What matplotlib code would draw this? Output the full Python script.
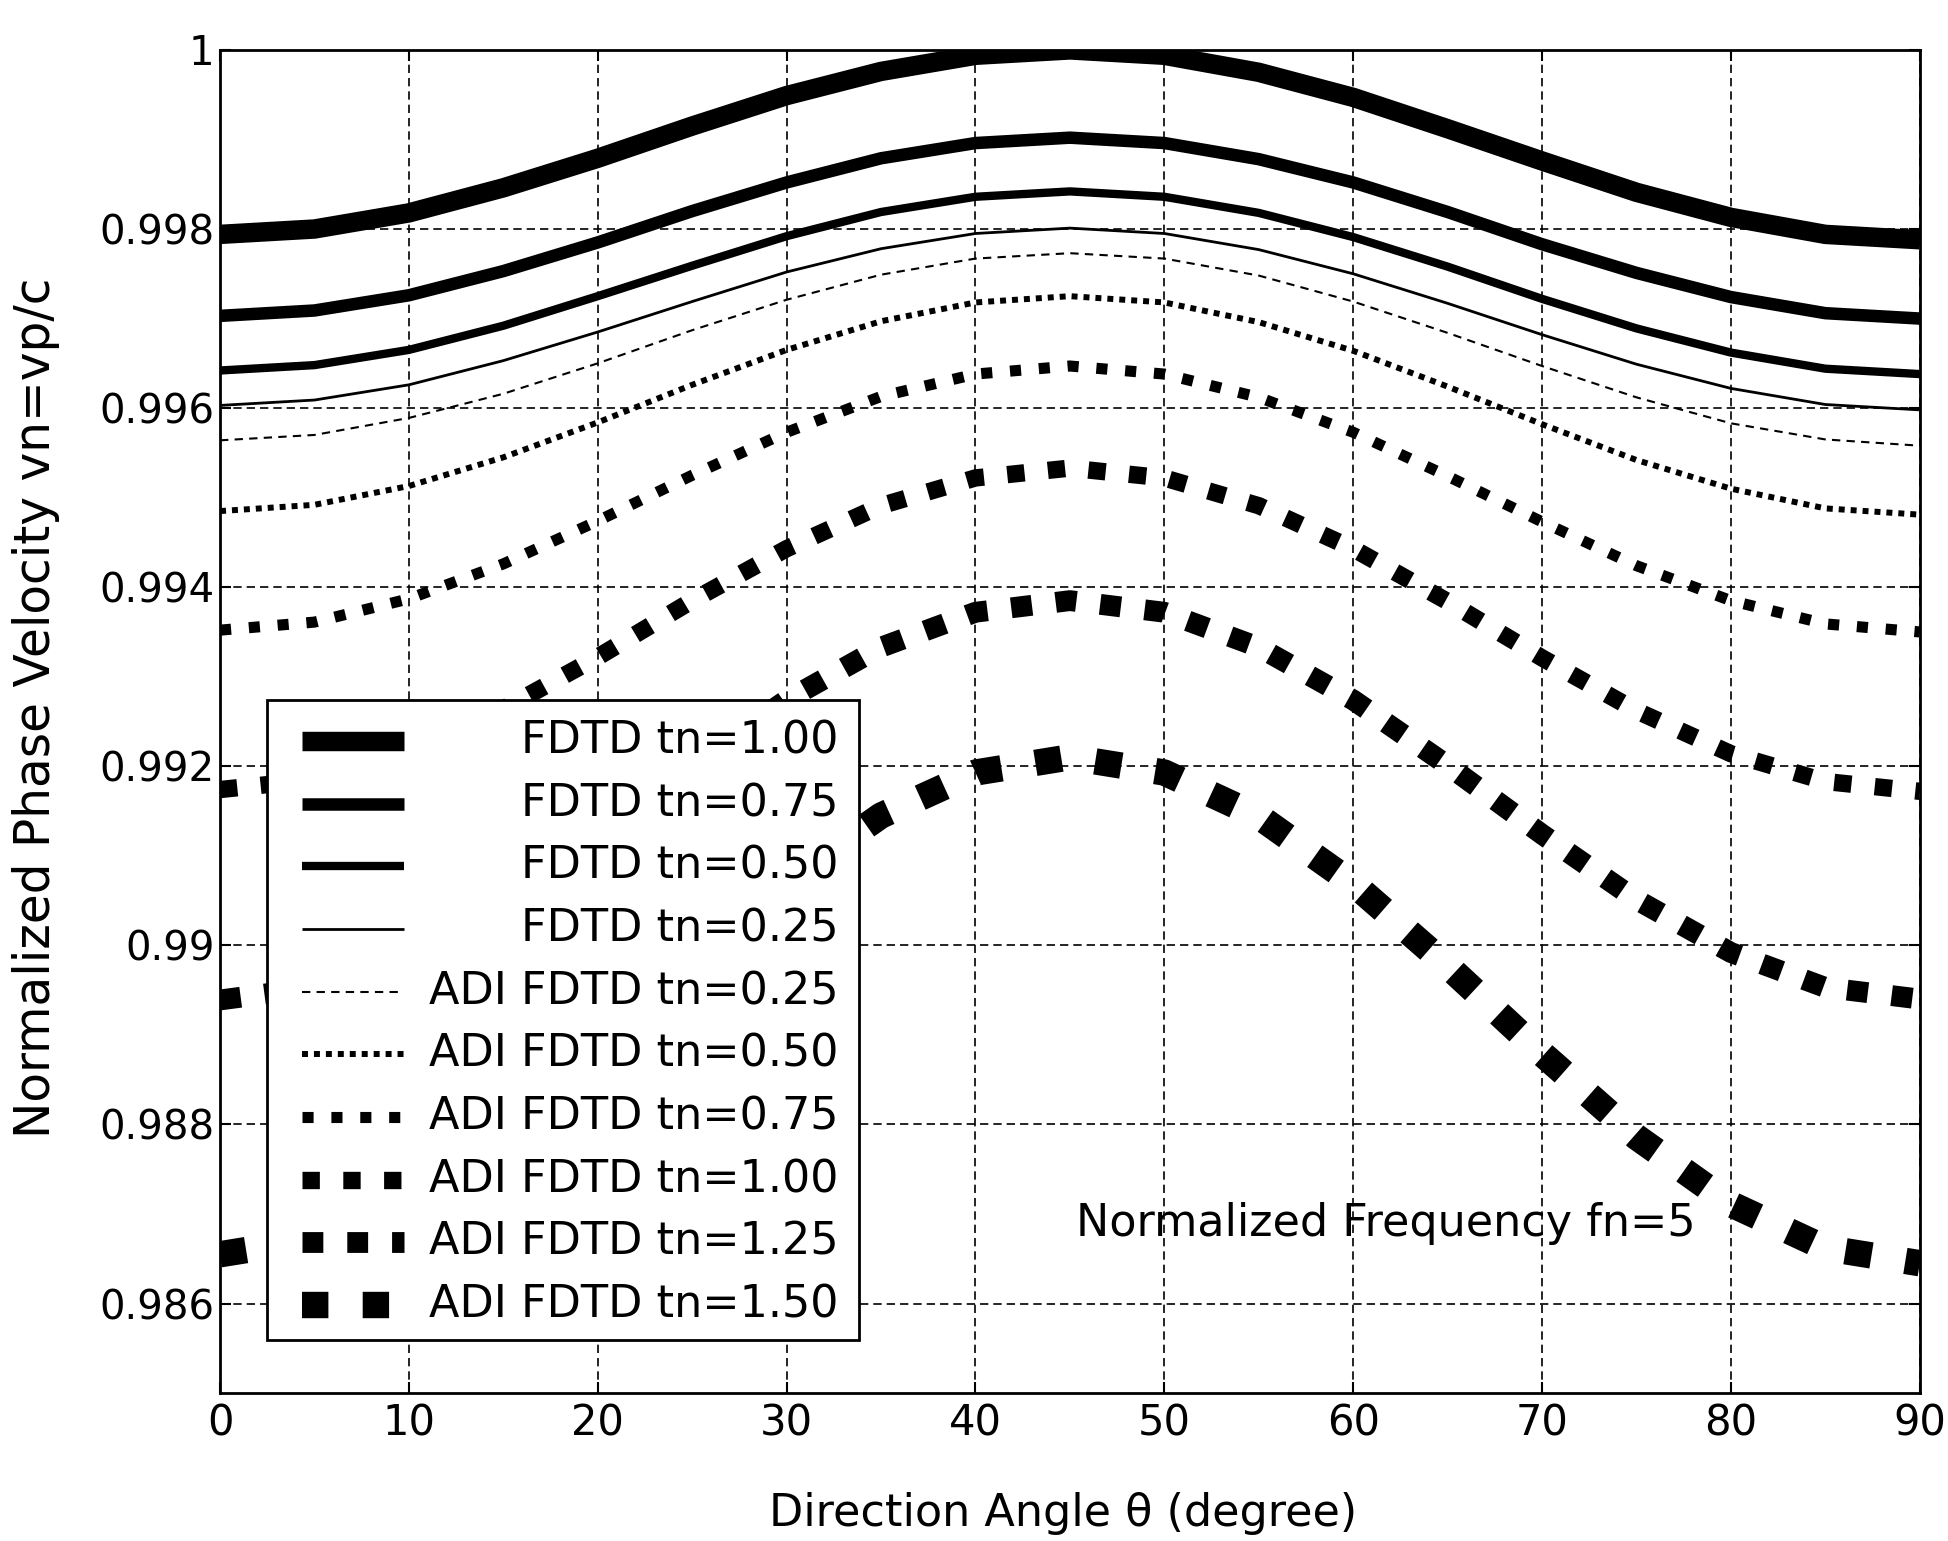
import matplotlib
matplotlib.use("Agg")
import matplotlib.pyplot as plt
from matplotlib.patches import Rectangle

angles = [0, 5, 10, 15, 20, 25, 30, 35, 40, 45, 50, 55, 60, 65, 70, 75, 80, 85, 90]

# Normalized phase velocity vn = vp/c, fn = 5
fdtd_100 = [0.99794, 0.99800, 0.99818, 0.99846, 0.99879, 0.99915, 0.99949, 0.99976, 0.99994, 1.00000,
            0.99994, 0.99975, 0.99947, 0.99912, 0.99876, 0.99841, 0.99813, 0.99794, 0.99788]
fdtd_075 = [0.99703, 0.99709, 0.99726, 0.99753, 0.99785, 0.99820, 0.99852, 0.99879, 0.99896, 0.99902,
            0.99896, 0.99878, 0.99852, 0.99819, 0.99783, 0.99751, 0.99724, 0.99706, 0.99700]
fdtd_050 = [0.99642, 0.99648, 0.99665, 0.99692, 0.99725, 0.99759, 0.99792, 0.99819, 0.99836, 0.99842,
            0.99836, 0.99818, 0.99791, 0.99758, 0.99722, 0.99689, 0.99662, 0.99644, 0.99638]
fdtd_025 = [0.99603, 0.99609, 0.99626, 0.99653, 0.99685, 0.99719, 0.99752, 0.99778, 0.99795, 0.99801,
            0.99795, 0.99777, 0.99750, 0.99717, 0.99682, 0.99649, 0.99622, 0.99604, 0.99598]
adi_025 = [0.99564, 0.99570, 0.99589, 0.99616, 0.99650, 0.99687, 0.99721, 0.99749, 0.99767, 0.99773,
           0.99767, 0.99748, 0.99719, 0.99684, 0.99647, 0.99612, 0.99583, 0.99565, 0.99558]
adi_050 = [0.99485, 0.99492, 0.99513, 0.99545, 0.99584, 0.99626, 0.99665, 0.99697, 0.99718, 0.99725,
           0.99718, 0.99696, 0.99664, 0.99624, 0.99582, 0.99542, 0.99510, 0.99488, 0.99481]
adi_075 = [0.99352, 0.99361, 0.99387, 0.99426, 0.99474, 0.99525, 0.99573, 0.99613, 0.99638, 0.99647,
           0.99638, 0.99612, 0.99573, 0.99524, 0.99473, 0.99424, 0.99385, 0.99359, 0.99350]
adi_100 = [0.99174, 0.99185, 0.99216, 0.99264, 0.99322, 0.99385, 0.99443, 0.99491, 0.99522, 0.99533,
           0.99522, 0.99491, 0.99443, 0.99384, 0.99321, 0.99262, 0.99214, 0.99183, 0.99172]
adi_125 = [0.98939, 0.98953, 0.98991, 0.99051, 0.99123, 0.99201, 0.99274, 0.99333, 0.99372, 0.99385,
           0.99372, 0.99333, 0.99274, 0.99201, 0.99124, 0.99051, 0.98992, 0.98953, 0.98940]
adi_150 = [0.98655, 0.98672, 0.98720, 0.98794, 0.98884, 0.98981, 0.99071, 0.99145, 0.99193, 0.99210,
           0.99193, 0.99144, 0.99069, 0.98977, 0.98879, 0.98786, 0.98711, 0.98662, 0.98645]

labels = ["FDTD tn=1.00", "FDTD tn=0.75", "FDTD tn=0.50", "FDTD tn=0.25",
          "ADI FDTD tn=0.25", "ADI FDTD tn=0.50", "ADI FDTD tn=0.75",
          "ADI FDTD tn=1.00", "ADI FDTD tn=1.25", "ADI FDTD tn=1.50"]
curves = [fdtd_100, fdtd_075, fdtd_050, fdtd_025,
          adi_025, adi_050, adi_075, adi_100, adi_125, adi_150]

x_ticks = [0, 10, 20, 30, 40, 50, 60, 70, 80, 90]
y_ticks = [0.986, 0.988, 0.990, 0.992, 0.994, 0.996, 0.998, 1.0]
y_tick_labels = ["0.986", "0.988", "0.99", "0.992", "0.994", "0.996", "0.998", "1"]

# line width (pt) and dash pattern for each curve, same order as labels
styles = [
    (14.0, "-"),
    (9.0, "-"),
    (6.0, "-"),
    (2.0, "-"),
    (1.5, (0, (4, 3))),
    (4.3, (0, (1, 1))),
    (8.0, (0, (1, 1.6))),
    (12.5, (0, (1, 1.35))),
    (15.0, (0, (1, 1.15))),
    (19.0, (0, (1, 1.3))),
]

fig = plt.figure(figsize=(19.49, 15.41), dpi=100)
ax = fig.add_axes([0.1129, 0.096, 0.8721, 0.8716])

for vals, (lw, ls) in zip(curves, styles):
    ax.plot(angles, vals, color="black", linewidth=lw, linestyle=ls,
            dash_capstyle="butt", solid_capstyle="butt", zorder=3)

# legend drawn by hand so the labels can be right aligned like the original
ax.add_patch(Rectangle((0.0276, 0.0395), 0.376 - 0.0276, 0.516 - 0.0395,
                       transform=ax.transAxes, facecolor="white",
                       edgecolor="black", linewidth=2, zorder=5))
for i, (label, (lw, ls)) in enumerate(zip(labels, styles)):
    y = 0.4855 - i * 0.04667
    ax.plot([0.048, 0.108], [y, y], transform=ax.transAxes, color="black",
            linewidth=lw, linestyle=ls, dash_capstyle="butt",
            solid_capstyle="butt", clip_on=False, zorder=6)
    ax.text(0.364, y, label, transform=ax.transAxes, ha="right", va="center",
            fontsize=32, zorder=6)

ax.text(45.3, 0.98689, "Normalized Frequency fn=5", fontsize=32,
        ha="left", va="center", zorder=4)

ax.set_xlim(0, 90)
ax.set_ylim(0.985, 1.0)
ax.set_xticks(x_ticks)
ax.set_yticks(y_ticks)
ax.set_yticklabels(y_tick_labels)
ax.tick_params(axis="x", labelsize=30, pad=7)
ax.tick_params(axis="y", labelsize=29, pad=4)
ax.tick_params(direction="in", top=True, right=True, length=8, width=1.5)
ax.grid(True, color="black", linestyle=(0, (5, 3)), linewidth=1.2)
ax.set_axisbelow(True)
for sp in ax.spines.values():
    sp.set_linewidth(2)

ax.set_xlabel("Direction Angle \u03b8 (degree)", fontsize=32)
ax.xaxis.set_label_coords(0.496, -0.074)
ax.set_ylabel("Normalized Phase Velocity vn=vp/c", fontsize=35)
ax.yaxis.set_label_coords(-0.094, 0.51)

fig.savefig("out.png", dpi=100)
plt.close(fig)
